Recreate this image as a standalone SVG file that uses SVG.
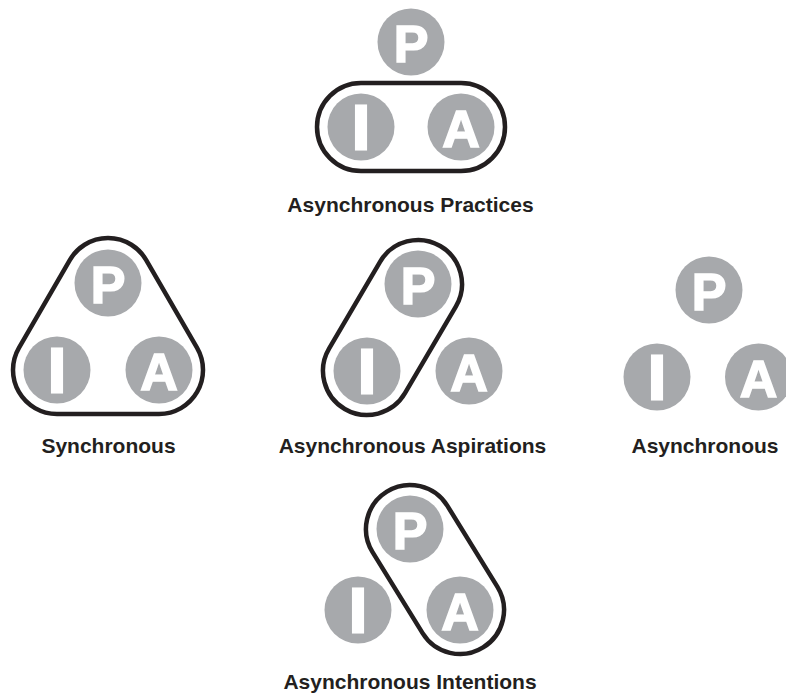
<svg xmlns="http://www.w3.org/2000/svg" width="786" height="695" viewBox="0 0 786 695">
  <style>
    .c { fill: #a7a9ac; }
    .l { fill: #ffffff; stroke: #ffffff; stroke-width: 1.6; font-family: "Liberation Sans", Arial, sans-serif; font-weight: bold; font-size: 52px; text-anchor: middle; }
    .li { fill: #ffffff; stroke: #ffffff; stroke-width: 3; font-family: "Liberation Sans", Arial, sans-serif; font-weight: bold; font-size: 63px; text-anchor: middle; }
    .o { fill: none; stroke: #231f20; stroke-width: 4.5; }
    .cap { fill: #231f20; font-family: "Liberation Sans", Arial, sans-serif; font-weight: bold; font-size: 21px; text-anchor: middle; }
  </style>
  <rect width="786" height="695" fill="#ffffff"/>

  <!-- Asynchronous Practices -->
  <g id="practices">
    <rect class="o" x="317" y="83" width="188" height="88" rx="44"/>
    <g id="practices-P"><circle class="c" cx="411" cy="42" r="33.5"/><text class="l" x="411" y="62">P</text></g>
    <g id="practices-I"><circle class="c" cx="361" cy="127" r="33.5"/><text class="li" x="361" y="149">I</text></g>
    <g id="practices-A"><circle class="c" cx="461" cy="127" r="33.5"/><text class="l" x="461" y="147">A</text></g>
    <text class="cap" x="410.5" y="212">Asynchronous Practices</text>
  </g>

  <!-- Synchronous -->
  <g id="synchronous">
    <path class="o" d="M57,414 L159,414 A44,44 0 0 0 197.07,347.93 L146.07,259.93 A44,44 0 0 0 69.93,259.93 L18.93,347.93 A44,44 0 0 0 57,414 Z"/>
    <g id="sync-P"><circle class="c" cx="108" cy="283" r="33.5"/><text class="l" x="108" y="303">P</text></g>
    <g id="sync-I"><circle class="c" cx="57" cy="370" r="33.5"/><text class="li" x="57" y="392">I</text></g>
    <g id="sync-A"><circle class="c" cx="159" cy="370" r="33.5"/><text class="l" x="159" y="390">A</text></g>
    <text class="cap" x="108.5" y="453">Synchronous</text>
  </g>

  <!-- Asynchronous Aspirations -->
  <g id="aspirations">
    <rect class="o" transform="translate(392.5 327.5) rotate(-59.62)" x="-94.4" y="-44" width="188.8" height="88" rx="44"/>
    <g id="asp-P"><circle class="c" cx="418" cy="284" r="33.5"/><text class="l" x="418" y="304">P</text></g>
    <g id="asp-I"><circle class="c" cx="367" cy="371" r="33.5"/><text class="li" x="367" y="393">I</text></g>
    <g id="asp-A"><circle class="c" cx="469" cy="371" r="33.5"/><text class="l" x="469" y="391">A</text></g>
    <text class="cap" x="412.5" y="453">Asynchronous Aspirations</text>
  </g>

  <!-- Asynchronous -->
  <g id="asynchronous">
    <g id="async-P"><circle class="c" cx="709" cy="290" r="33.5"/><text class="l" x="709" y="310">P</text></g>
    <g id="async-I"><circle class="c" cx="657" cy="377" r="33.5"/><text class="li" x="657" y="399">I</text></g>
    <g id="async-A"><circle class="c" cx="758.5" cy="377" r="33.5"/><text class="l" x="758.5" y="397">A</text></g>
    <text class="cap" x="705" y="453">Asynchronous</text>
  </g>

  <!-- Asynchronous Intentions -->
  <g id="intentions">
    <rect class="o" transform="translate(435 569.5) rotate(58.3)" x="-91.6" y="-44" width="183.2" height="88" rx="44"/>
    <g id="int-P"><circle class="c" cx="410" cy="529" r="33.5"/><text class="l" x="410" y="549">P</text></g>
    <g id="int-I"><circle class="c" cx="358" cy="610" r="33.5"/><text class="li" x="358" y="632">I</text></g>
    <g id="int-A"><circle class="c" cx="460" cy="610" r="33.5"/><text class="l" x="460" y="630">A</text></g>
    <text class="cap" x="410" y="689">Asynchronous Intentions</text>
  </g>

  <g id="connectors"/>
</svg>
